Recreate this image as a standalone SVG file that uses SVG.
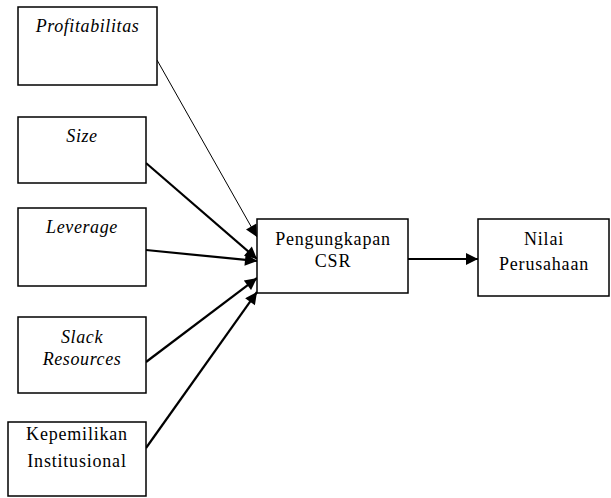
<svg xmlns="http://www.w3.org/2000/svg" width="611" height="498" viewBox="0 0 611 498">
<style>
.box{fill:#fff;stroke:#000;stroke-width:1.5}
.t{font-family:"Liberation Serif","Times New Roman",serif;font-size:18px;fill:#000;text-anchor:middle;letter-spacing:0.8px}
.i{font-style:italic;letter-spacing:0.6px}
.c{stroke:#000;fill:none}
</style>
<defs>
<marker id="ah" viewBox="0 0 10 10" refX="10" refY="5" markerWidth="14" markerHeight="12" markerUnits="userSpaceOnUse" orient="auto">
<path d="M0,0 L10,5 L0,10 z" fill="#000"/>
</marker>
</defs>
<g id="connectors">
<line class="c" x1="157" y1="60" x2="257" y2="237" stroke-width="1" marker-end="url(#ah)"/>
<line class="c" x1="146" y1="163" x2="257" y2="259" stroke-width="2.2" marker-end="url(#ah)"/>
<line class="c" x1="146" y1="250" x2="257" y2="261" stroke-width="2.2" marker-end="url(#ah)"/>
<line class="c" x1="146" y1="362" x2="257" y2="278" stroke-width="2.2" marker-end="url(#ah)"/>
<line class="c" x1="146" y1="448" x2="257" y2="292" stroke-width="2.2" marker-end="url(#ah)"/>
<line class="c" x1="408" y1="259" x2="478" y2="259" stroke-width="2.2" marker-end="url(#ah)"/>
</g>
<g id="profitabilitas">
<rect class="box" x="18" y="7" width="139" height="78"/>
<text class="t i" x="87.5" y="32">Profitabilitas</text>
</g>
<g id="size">
<rect class="box" x="18" y="117" width="128" height="66"/>
<text class="t i" x="82" y="142">Size</text>
</g>
<g id="leverage">
<rect class="box" x="18" y="208" width="128" height="78"/>
<text class="t i" x="82" y="233">Leverage</text>
</g>
<g id="slack">
<rect class="box" x="18" y="317" width="128" height="76"/>
<text class="t i" x="82" y="343">Slack</text>
<text class="t i" x="82" y="365">Resources</text>
</g>
<g id="kepemilikan">
<rect class="box" x="8" y="422" width="138" height="74"/>
<text class="t" x="77" y="440">Kepemilikan</text>
<text class="t" x="77" y="467">Institusional</text>
</g>
<g id="csr">
<rect class="box" x="257" y="219" width="151" height="74"/>
<text class="t" x="333" y="245">Pengungkapan</text>
<text class="t" x="333" y="267">CSR</text>
</g>
<g id="nilai">
<rect class="box" x="478" y="219" width="131" height="77"/>
<text class="t" x="544" y="245">Nilai</text>
<text class="t" x="544" y="270">Perusahaan</text>
</g>
</svg>
